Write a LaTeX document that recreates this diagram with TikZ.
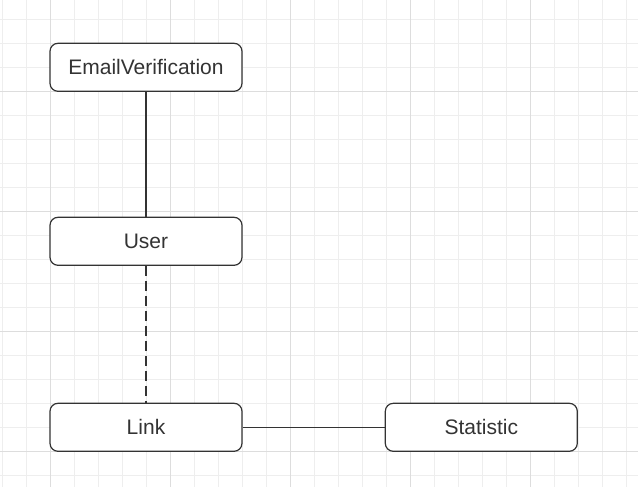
\documentclass[tikz,border=0pt]{standalone}
\usepackage{fontspec}
\setmainfont{Liberation Sans}
\definecolor{minorgrid}{HTML}{EEEEEE}
\definecolor{majorgrid}{HTML}{DDDDDD}
\definecolor{ink}{HTML}{333333}
\begin{document}
\begin{tikzpicture}[x=1pt,y=-1pt,
  entity/.style={draw=ink, line width=1.2pt, rounded corners=8pt, fill=white,
    minimum width=192pt, minimum height=48pt, inner sep=0pt,
    font=\fontsize{21}{24}\selectfont, text=ink},
  conn/.style={draw=ink, line width=1.1pt},
  dashconn/.style={conn, dash pattern=on 10pt off 5pt}]
\useasboundingbox (0,0) rectangle (638,487);
\fill[white] (0,0) rectangle (638,487);
% minor grid
\foreach \x in {2.7,26.7,...,638} \draw[minorgrid, line width=1pt] (\x,0) -- (\x,487);
\foreach \y in {19.3,43.3,...,487} \draw[minorgrid, line width=1pt] (0,\y) -- (638,\y);
% major grid
\foreach \x in {50.7,170.7,290.7,410.7,530.7} \draw[majorgrid, line width=1pt] (\x,0) -- (\x,487);
\foreach \y in {91.3,211.3,331.3,451.3} \draw[majorgrid, line width=1pt] (0,\y) -- (638,\y);
% nodes
\node[entity] (ev) at (146,67.3) {EmailVerification};
\node[entity] (user) at (146,241.3) {User};
\node[entity] (link) at (146,427.3) {Link};
\node[entity] (stat) at (481.3,427.3) {Statistic};
% connectors
\draw[conn] (ev) -- (user);
\draw[dashconn] (user) -- (link);
\draw[conn] (link) -- (stat);
\end{tikzpicture}
\end{document}
